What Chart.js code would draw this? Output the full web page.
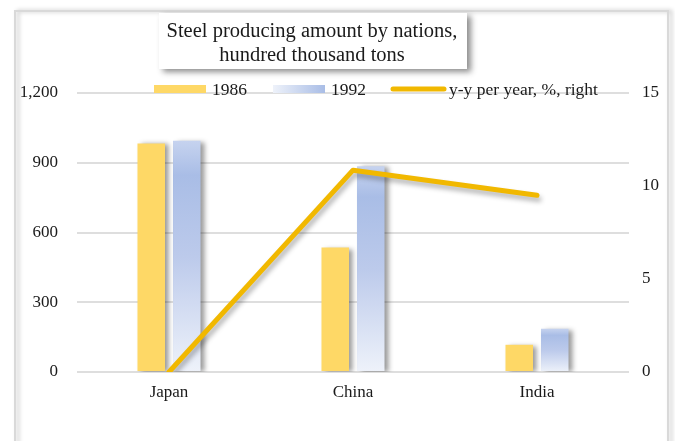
<!DOCTYPE html>
<html>
<head>
<meta charset="utf-8">
<script src="https://cdn.jsdelivr.net/npm/chart.js@4.4.1/dist/chart.umd.min.js"></script>
<style>
  html, body { margin: 0; padding: 0; background: #fff; }
  #wrap { width: 675px; height: 441px; position: relative; }
</style>
</head>
<body>
<div id="wrap"><canvas id="chart" width="675" height="441"></canvas></div>
<script>
// Chart data
const categories = ['Japan', 'China', 'India'];
const steel1986 = [983, 535, 117];
const steel1992 = [995, 885, 186];
const growthPct = [0, 10.85, 9.5];
const leftTicks = [0, 300, 600, 900, 1200];
const rightTicks = [0, 5, 10, 15];
const seriesNames = ['1986', '1992', 'y-y per year, %, right'];
const titleLines = ['Steel producing amount by nations,', 'hundred thousand tons'];

const SERIF = "'Liberation Serif', 'Times New Roman', serif";
const yellow = '#fed866';
const lineColor = '#f1b800';

// vertical gradient for the 1992 bars, one per bar
function blueFill(context) {
    const chart = context.chart;
    const yScale = chart.scales.y;
    if (!yScale || context.raw === undefined) return '#b4c6ea';
    const top = yScale.getPixelForValue(context.raw);
    const bottom = yScale.getPixelForValue(0);
    if (!isFinite(top) || !isFinite(bottom) || bottom - top < 1) return '#b4c6ea';
    const g = chart.ctx.createLinearGradient(0, top, 0, bottom);
    g.addColorStop(0, '#c6d3ef');
    g.addColorStop(0.15, '#a9bde6');
    g.addColorStop(0.5, '#bccaeb');
    g.addColorStop(1, '#eef2fa');
    return g;
}

// outer frame + title box + legend
const framePlugin = {
    id: 'frame',
    beforeDraw(chart) {
        const ctx = chart.ctx;
        ctx.save();
        ctx.fillStyle = '#fff';
        ctx.fillRect(0, 0, chart.width, chart.height);
        ctx.shadowColor = 'rgba(0,0,0,0.25)';
        ctx.shadowBlur = 4;
        ctx.shadowOffsetX = 3;
        ctx.strokeStyle = '#d9d9d9';
        ctx.lineWidth = 2;
        ctx.strokeRect(15, 11, 653, 460);
        ctx.restore();
    },
    afterDraw(chart) {
        const ctx = chart.ctx;
        ctx.save();
        ctx.shadowColor = 'rgba(0,0,0,0.45)';
        ctx.shadowBlur = 6;
        ctx.shadowOffsetX = 4;
        ctx.shadowOffsetY = 3;
        ctx.fillStyle = '#fff';
        ctx.fillRect(159, 13, 308, 56);
        ctx.restore();

        ctx.save();
        ctx.fillStyle = '#1a1a1a';
        ctx.font = '20.5px ' + SERIF;
        ctx.textAlign = 'center';
        ctx.textBaseline = 'middle';
        ctx.fillText(titleLines[0], 312, 32);
        ctx.fillText(titleLines[1], 312, 56);
        ctx.restore();

        // legend
        const ds = chart.data.datasets;
        const items = [
            { x: 154, label: ds[0].label, kind: 'box', color: yellow },
            { x: 273, label: ds[1].label, kind: 'grad' },
            { x: 391, label: ds[2].label, kind: 'line', color: ds[2].borderColor }
        ];
        const ly = 89;
        ctx.save();
        ctx.font = '17.5px ' + SERIF;
        ctx.textBaseline = 'middle';
        items.forEach(it => {
            if (it.kind === 'box') {
                ctx.fillStyle = it.color;
                ctx.fillRect(it.x, ly - 4, 52, 8);
            } else if (it.kind === 'grad') {
                const g = ctx.createLinearGradient(it.x, 0, it.x + 52, 0);
                g.addColorStop(0, '#eef2fa');
                g.addColorStop(1, '#a9bde6');
                ctx.fillStyle = g;
                ctx.fillRect(it.x, ly - 4, 52, 8);
            } else {
                ctx.strokeStyle = it.color;
                ctx.lineWidth = 5;
                ctx.lineCap = 'round';
                ctx.beginPath();
                ctx.moveTo(it.x + 2, ly);
                ctx.lineTo(it.x + 53, ly);
                ctx.stroke();
            }
            ctx.fillStyle = '#1a1a1a';
            ctx.fillText(it.label, it.x + 58, ly + 1);
        });
        ctx.restore();
    }
};

// soft shadows on bars and the line
const shadowPlugin = {
    id: 'markShadow',
    beforeDatasetDraw(chart, args) {
        const ctx = chart.ctx;
        ctx.save();
        if (args.meta.type === 'bar') {
            ctx.shadowColor = 'rgba(0,0,0,0.4)';
            ctx.shadowBlur = 5;
            ctx.shadowOffsetX = 4;
            ctx.shadowOffsetY = 1;
        } else {
            ctx.shadowColor = 'rgba(0,0,0,0.3)';
            ctx.shadowBlur = 5;
            ctx.shadowOffsetX = 2;
            ctx.shadowOffsetY = 4;
        }
    },
    afterDatasetDraw(chart) {
        chart.ctx.restore();
    }
};

const ctx = document.getElementById('chart').getContext('2d');
new Chart(ctx, {
    type: 'bar',
    data: {
        labels: categories,
        datasets: [
            {
                label: seriesNames[0],
                data: steel1986,
                backgroundColor: yellow,
                yAxisID: 'y',
                order: 2,
                categoryPercentage: 0.386,
                barPercentage: 0.775
            },
            {
                label: seriesNames[1],
                data: steel1992,
                backgroundColor: blueFill,
                yAxisID: 'y',
                order: 2,
                categoryPercentage: 0.386,
                barPercentage: 0.775
            },
            {
                type: 'line',
                label: seriesNames[2],
                data: growthPct,
                borderColor: lineColor,
                backgroundColor: lineColor,
                borderWidth: 5,
                borderCapStyle: 'round',
                borderJoinStyle: 'round',
                pointRadius: 0,
                tension: 0,
                yAxisID: 'y1',
                order: 1
            }
        ]
    },
    options: {
        responsive: false,
        animation: false,
        layout: { padding: { top: 93, bottom: 29, left: 0, right: 0 } },
        plugins: {
            legend: { display: false },
            title: { display: false },
            tooltip: { enabled: false }
        },
        scales: {
            x: {
                grid: { display: false, drawTicks: false },
                border: { display: false },
                ticks: { color: '#1a1a1a', font: { family: SERIF, size: 17 }, padding: 10 },
                afterFit(scale) { scale.height = 40; }
            },
            y: {
                position: 'left',
                min: 0,
                max: 1200,
                afterBuildTicks(scale) { scale.ticks = leftTicks.map(v => ({ value: v })); },
                grid: { color: '#dedede', lineWidth: 2, drawTicks: false },
                border: { display: false },
                ticks: {
                    color: '#1a1a1a',
                    font: { family: SERIF, size: 17 },
                    padding: 19,
                    callback: v => v.toLocaleString('en-US')
                },
                afterFit(scale) { scale.width = 77; }
            },
            y1: {
                position: 'right',
                min: 0,
                max: 15,
                afterBuildTicks(scale) { scale.ticks = rightTicks.map(v => ({ value: v })); },
                grid: { drawOnChartArea: false, drawTicks: false },
                border: { display: false },
                ticks: { color: '#1a1a1a', font: { family: SERIF, size: 17 }, padding: 13 },
                afterFit(scale) { scale.width = 46; }
            }
        }
    },
    plugins: [framePlugin, shadowPlugin]
});
</script>
</body>
</html>
